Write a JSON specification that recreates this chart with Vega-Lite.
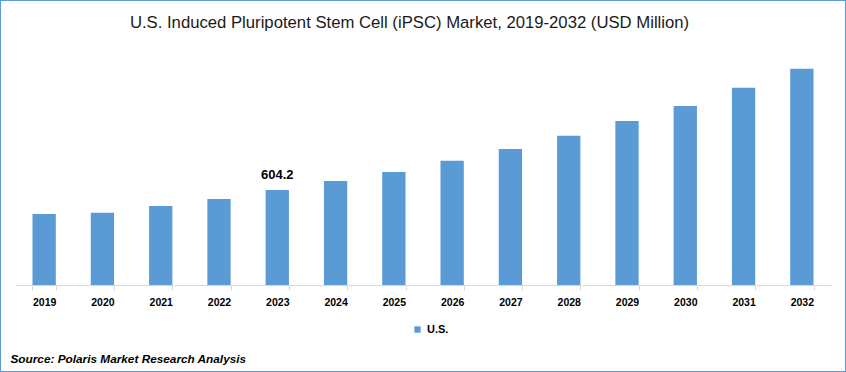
{
  "$schema": "https://vega.github.io/schema/vega-lite/v6.json",
  "width": 846,
  "height": 372,
  "autosize": {"type": "none"},
  "padding": 0,
  "background": "white",
  "config": {
    "view": {"stroke": "#5b9bd5", "strokeWidth": 2},
    "font": "Liberation Sans"
  },
  "data": {
    "values": [
      {"year": "2019", "value": 451},
      {"year": "2020", "value": 460},
      {"year": "2021", "value": 502},
      {"year": "2022", "value": 547},
      {"year": "2023", "value": 604.2},
      {"year": "2024", "value": 661},
      {"year": "2025", "value": 719},
      {"year": "2026", "value": 789},
      {"year": "2027", "value": 865},
      {"year": "2028", "value": 948},
      {"year": "2029", "value": 1043},
      {"year": "2030", "value": 1138},
      {"year": "2031", "value": 1253},
      {"year": "2032", "value": 1374}
    ]
  },
  "encoding": {
    "x": {
      "field": "year",
      "type": "ordinal",
      "scale": {"range": [15, 831], "paddingInner": 0.6, "paddingOuter": 0.3},
      "axis": {
        "orient": "bottom",
        "offset": -87,
        "domainColor": "#d9d9d9",
        "tickColor": "#d9d9d9",
        "tickSize": 5,
        "tickBand": "extent",
        "labelAngle": 0,
        "labelFont": "Liberation Sans",
        "labelFontWeight": "bold",
        "labelFontSize": 10.5,
        "labelColor": "#000000",
        "labelBaseline": "alphabetic",
        "labelPadding": 15,
        "title": "Source: Polaris  Market Research Analysis",
        "titleX": 10,
        "titleY": 77,
        "titleAlign": "left",
        "titleAnchor": "start",
        "titleBaseline": "alphabetic",
        "titleFont": "Liberation Sans",
        "titleFontStyle": "italic",
        "titleFontWeight": "bold",
        "titleFontSize": 11.8,
        "titleColor": "#000000"
      }
    },
    "y": {
      "field": "value",
      "type": "quantitative",
      "scale": {"domain": [0, 1500], "range": [285, 49]},
      "axis": {
        "orient": "left",
        "domain": false,
        "ticks": false,
        "labels": false,
        "grid": false,
        "title": "U.S. Induced Pluripotent Stem Cell (iPSC) Market, 2019-2032 (USD Million)",
        "titleAngle": 0,
        "titleX": 409,
        "titleY": 27,
        "titleAlign": "center",
        "titleAnchor": "middle",
        "titleBaseline": "alphabetic",
        "titleFont": "Liberation Sans",
        "titleFontSize": 16.7,
        "titleFontWeight": "normal",
        "titleColor": "#1a1a1a"
      }
    }
  },
  "layer": [
    {
      "mark": {"type": "bar"},
      "encoding": {
        "color": {
          "datum": "U.S.",
          "type": "nominal",
          "scale": {"range": ["#5b9bd5"]},
          "legend": {
            "orient": "none",
            "legendX": 412,
            "legendY": 324,
            "title": null,
            "padding": 0,
            "symbolType": "square",
            "symbolSize": 40,
            "symbolStrokeWidth": 0,
            "labelFont": "Liberation Sans",
            "labelFontWeight": "bold",
            "labelFontSize": 11,
            "labelColor": "#000000",
            "labelOffset": 4
          }
        }
      }
    },
    {
      "transform": [{"filter": "datum.year == '2023'"}],
      "mark": {
        "type": "text",
        "font": "Liberation Sans",
        "fontWeight": "bold",
        "fontSize": 13,
        "color": "#000000",
        "baseline": "alphabetic",
        "dy": -11
      },
      "encoding": {
        "text": {"field": "value", "type": "quantitative", "format": ".1f"}
      }
    }
  ]
}
